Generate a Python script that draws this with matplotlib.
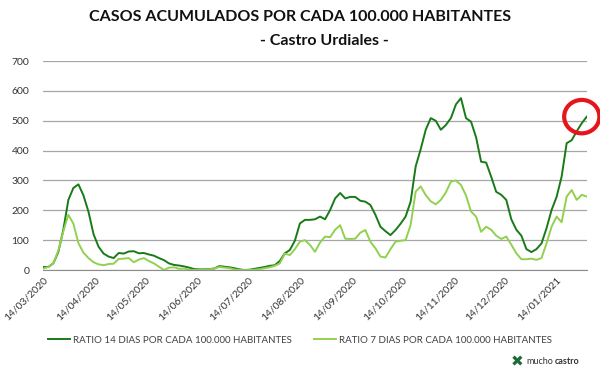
import numpy as np
import pandas as pd
import matplotlib
matplotlib.use("Agg")
import matplotlib.pyplot as plt
import matplotlib.dates as mdates
from matplotlib.patches import Ellipse

plt.rcParams['font.family'] = ['Lato', 'DejaVu Sans']

# fechas: cada 3 dias desde el 14/03/2020
fechas = pd.date_range('2020-03-14', periods=109, freq='3D')

# ratio 14 dias por cada 100.000 habitantes
ratio_14 = [
    10, 10, 22, 60, 135, 235, 275, 287, 250, 195,
    120, 78, 55, 45, 40, 57, 55, 62, 63, 56,
    57, 52, 48, 40, 33, 22, 17, 15, 12, 8,
    3, 2, 2, 3, 5, 13, 11, 9, 6, 2,
    0, 1, 4, 7, 10, 14, 16, 30, 56, 67,
    98, 156, 168, 168, 170, 179, 170, 201, 240, 258,
    240, 245, 245, 232, 229, 218, 185, 145, 130, 117,
    134, 155, 179, 229, 347, 405, 470, 509, 500, 470,
    486, 509, 555, 576, 509, 497, 445, 363, 360, 313,
    262, 252, 235, 170, 135, 115, 70, 60, 70, 89,
    140, 201, 245, 313, 425, 435, 465, 492, 514,
]

# ratio 7 dias por cada 100.000 habitantes
ratio_7 = [
    5, 10, 22, 65, 130, 185, 155, 90, 58, 40,
    26, 19, 16, 20, 21, 37, 38, 40, 26, 35,
    40, 30, 22, 11, 0, 8, 9, 4, 5, 1,
    0, 0, 0, 2, 5, 10, 8, 6, 2, 0,
    0, 0, 1, 3, 6, 9, 14, 22, 55, 50,
    70, 95, 100, 84, 61, 92, 112, 110, 135, 150,
    105, 104, 105, 125, 134, 95, 73, 45, 42, 70,
    95, 98, 100, 151, 263, 280, 251, 230, 220, 235,
    260, 296, 300, 285, 250, 196, 179, 128, 145, 135,
    115, 104, 112, 85, 56, 36, 36, 38, 34, 40,
    89, 145, 179, 160, 246, 268, 235, 252, 246,
]

titulo = "CASOS ACUMULADOS POR CADA 100.000 HABITANTES"
subtitulo = "- Castro Urdiales -"
etiquetas = ["RATIO 14 DIAS POR CADA 100.000 HABITANTES",
             "RATIO 7 DIAS POR CADA 100.000 HABITANTES"]

verde_oscuro = '#187A18'
verde_claro = '#92D050'

fig = plt.figure(figsize=(6, 3.75), dpi=100)
ax = fig.add_axes([0.072, 0.28, 0.906, 0.557])

ax.plot(fechas, ratio_14, color=verde_oscuro, lw=1.4, label=etiquetas[0])
ax.plot(fechas, ratio_7, color=verde_claro, lw=1.4, label=etiquetas[1])

ax.set_ylim(0, 700)
ax.set_yticks(range(0, 701, 100))
ax.set_xlim(fechas[0], fechas[-1])
ax.xaxis.set_major_locator(mdates.MonthLocator(bymonthday=14))
ax.xaxis.set_major_formatter(mdates.DateFormatter('%d/%m/%Y'))
plt.setp(ax.get_xticklabels(), rotation=45, ha='right', rotation_mode='anchor')

ax.grid(axis='y', color='#A6A6A6', lw=0.9)
ax.set_axisbelow(True)
for s in ['top', 'right', 'left']:
    ax.spines[s].set_visible(False)
ax.spines['bottom'].set_color('#8C8C8C')
ax.tick_params(axis='both', length=0, labelsize=7.5, colors='#333333')
ax.tick_params(axis='y', pad=10)
ax.tick_params(axis='x', pad=4)

# circulo rojo en el ultimo valor
circ = Ellipse((fechas[-2], ratio_14[-1]), width=21, height=112,
               fill=False, edgecolor='#E8141B', lw=3, clip_on=False, zorder=5)
ax.add_patch(circ)

fig.text(0.5, 0.955, titulo, ha='center', va='center', fontsize=11.5,
         fontweight='bold', color='#111111')
fig.text(0.54, 0.89, subtitulo, ha='center', va='center', fontsize=11.5,
         fontweight='bold', color='#111111')

fig.legend(loc='center', bbox_to_anchor=(0.5, 0.093), ncol=2, frameon=False,
           fontsize=7, handlelength=2.3, columnspacing=2.2, handletextpad=0.3,
           labelcolor='#404040')

# logo
fig.text(0.862, 0.035, '\u2716', ha='center', va='center', fontsize=11,
         color='#1E6B3A', family=['DejaVu Sans'])
t1 = fig.text(0.878, 0.035, 'mucho', ha='left', va='center', fontsize=6.5,
              color='#333333')
fig.canvas.draw()
ax.annotate('castro', xy=(1, 0.5), xycoords=t1, xytext=(0.5, 0),
            textcoords='offset points', ha='left', va='center', fontsize=6.5,
            fontweight='bold', color='#333333', annotation_clip=False)

fig.savefig('out.png', dpi=100)
plt.close('all')
